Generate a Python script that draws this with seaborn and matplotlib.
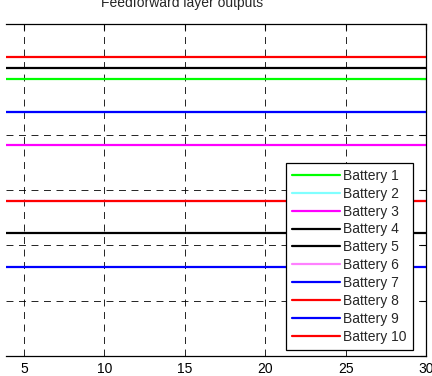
import numpy as np
import pandas as pd
import matplotlib
matplotlib.use("Agg")
import matplotlib.pyplot as plt
import seaborn as sns

sns.set_theme(style="white")
plt.rcParams['font.family'] = ['Liberation Sans', 'DejaVu Sans']
plt.rcParams['lines.scale_dashes'] = False

batteries = [f"Battery {i}" for i in range(1, 11)]
levels = [5.01, 4.41, 3.81, 5.21, 2.22, 2.80, 4.41, 5.40, 1.61, 2.80]
colors = ["#00ff00", "#80ffff", "#ff00ff", "#000000", "#000000",
          "#ff80ff", "#0000ff", "#ff0000", "#0000ff", "#ff0000"]
x_span = [0, 30]
x_ticks = [5, 10, 15, 20, 25, 30]
y_ticks = [0, 1, 2, 3, 4, 5, 6]

rows = []
for b, v in zip(batteries, levels):
    for x in x_span:
        rows.append({"Epoch": x, "Output": v, "Battery": b})
df = pd.DataFrame(rows)

W, H = 432, 376
fig = plt.figure(figsize=(W / 100, H / 100), dpi=100)
ax_left, ax_right = 6, 426
ax = fig.add_axes([ax_left / W, 20 / H, (ax_right - ax_left) / W, 332 / H])

for xt in x_ticks[:-1]:
    ax.axvline(xt, color="black", lw=0.6, ls=(0, (5, 4)), zorder=0)
for yt in y_ticks[1:-1]:
    ax.axhline(yt, color="black", lw=0.6, ls=(0, (5, 4)), zorder=0)

sns.lineplot(data=df, x="Epoch", y="Output", hue="Battery", hue_order=batteries,
             palette=dict(zip(batteries, colors)), lw=1.6, ax=ax, legend=True)

# visible window of the x axis (left part cropped away)
ax.set_xlim(5 - 18 / 16.06, 30)
ax.set_ylim(0, 6)
ax.set_xticks(x_ticks)
ax.set_yticks(y_ticks)
ax.set_xlabel("")
ax.set_ylabel("")
ax.spines["left"].set_visible(False)
ax.tick_params(direction="in", top=True, right=True, left=False, length=4, width=0.8,
               labelleft=False, labelsize=10, colors="black", pad=4)
for s in ax.spines.values():
    s.set_color("black")
    s.set_linewidth(0.9)
ax.set_title("Feedforward layer outputs", fontsize=10, pad=12,
             x=(182 - ax_left) / (ax_right - ax_left))

aw = ax_right - ax_left
leg = ax.legend(loc="lower right", bbox_to_anchor=(1 - 13 / aw, 6 / 332),
                borderaxespad=0, fontsize=10, frameon=True, fancybox=False,
                labelspacing=0.28, borderpad=0.45, handlelength=3.5,
                handletextpad=0.2, framealpha=1)
leg.get_frame().set_edgecolor("black")
leg.get_frame().set_linewidth(0.9)
for line in leg.get_lines():
    line.set_linewidth(1.6)

fig.savefig("out.png", dpi=100)
